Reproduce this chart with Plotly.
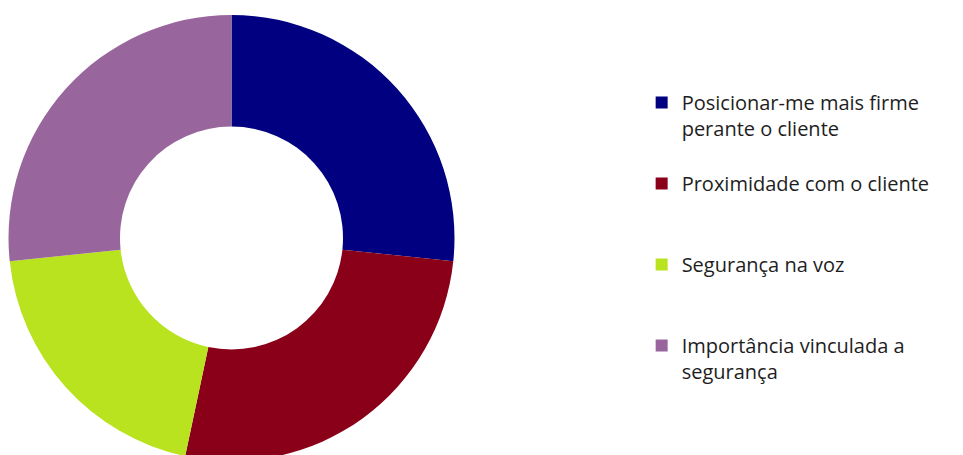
import plotly.graph_objects as go

labels = ["Posicionar-me mais firme<br>perante o cliente<br> ",
          "Proximidade com o cliente<br> <br> ",
          "Segurança na voz<br> <br> ",
          "Importância vinculada a<br>segurança<br> "]
values = [4, 4, 3, 4]
colors = ["#000080", "#8A0019", "#B9E31F", "#98669C"]

fig = go.Figure(go.Pie(
    labels=labels, values=values, hole=0.5, sort=False, direction="clockwise",
    rotation=0, marker=dict(colors=colors, line=dict(width=0)),
    textinfo="none", hoverinfo="label+value",
    domain=dict(x=[0.00052, 0.46366], y=[0, 1]),
))
fig.update_layout(
    width=963, height=455, margin=dict(l=0, r=0, t=7, b=2),
    paper_bgcolor="white", plot_bgcolor="white",
    font=dict(family="Open Sans", size=20, color="#1E1E1E"),
    legend=dict(x=0.658, y=0.8475, xanchor="left", yanchor="top", valign="top",
                itemwidth=30, font=dict(size=20, family="Open Sans", color="#1E1E1E"),
                bgcolor="rgba(0,0,0,0)"),
    showlegend=True,
)
fig.write_html("out.html")
